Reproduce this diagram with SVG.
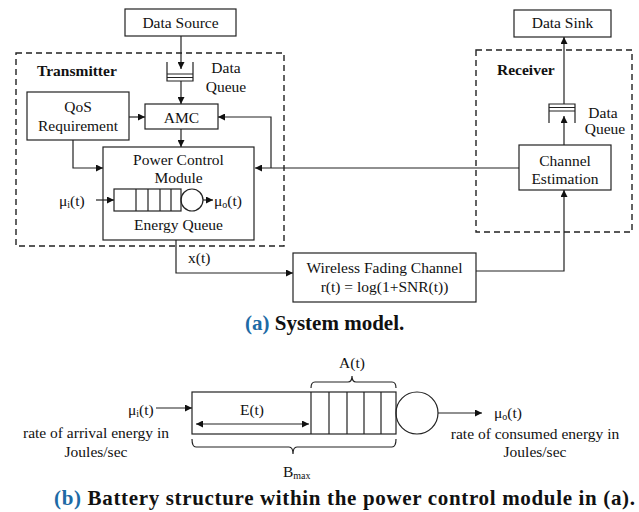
<svg xmlns="http://www.w3.org/2000/svg" width="639" height="512" viewBox="0 0 639 512">
  <style>
    .box { fill: #fff; stroke: #222; stroke-width: 1.2; }
    .dash { fill: none; stroke: #222; stroke-width: 1.4; stroke-dasharray: 6 4; }
    .ln { fill: none; stroke: #222; stroke-width: 1.2; }
    .t { font-family: "Liberation Serif", "Times New Roman", serif; font-size: 15.5px; fill: #111; }
    .c { text-anchor: middle; }
    .b { font-weight: bold; }
    .cap { font-family: "Liberation Serif", "Times New Roman", serif; font-weight: bold; font-size: 21px; fill: #111; }
    .blue { fill: #1d6aa5; }
  </style>
  <defs>
    <marker id="arr" viewBox="0 0 10 10" refX="10" refY="5" markerWidth="8" markerHeight="7" markerUnits="userSpaceOnUse" orient="auto-start-reverse">
      <path d="M0,0 L10,5 L0,10 Z" fill="#111"/>
    </marker>
  </defs>
  <rect width="639" height="512" fill="#fff"/>

  <!-- (a) system model: grouping boundaries -->
  <g id="transmitter">
    <rect class="dash" x="16" y="53" width="268" height="193"/>
    <text class="t b" x="37" y="76">Transmitter</text>
  </g>
  <g id="receiver">
    <rect class="dash" x="476" y="50" width="156" height="182"/>
    <text class="t b" x="497" y="75">Receiver</text>
  </g>

  <g id="data-source">
    <rect class="box" x="125" y="9" width="111" height="27"/>
    <text class="t c" x="180.5" y="28">Data Source</text>
  </g>

  <g id="tx-data-queue">
    <path class="ln" d="M167,62 V81 H193 V62 M167,74 H193 M167,77.5 H193"/>
    <text class="t c" x="226" y="73">Data</text>
    <text class="t c" x="226" y="92">Queue</text>
  </g>

  <g id="qos">
    <rect class="box" x="27" y="92" width="102" height="48"/>
    <text class="t c" x="78" y="112">QoS</text>
    <text class="t c" x="78" y="131">Requirement</text>
  </g>

  <g id="amc">
    <rect class="box" x="145" y="104" width="73" height="25"/>
    <text class="t c" x="181.5" y="123">AMC</text>
  </g>

  <g id="power-control">
    <rect class="box" x="103" y="147" width="151" height="93"/>
    <text class="t c" x="178.5" y="165">Power Control</text>
    <text class="t c" x="178.5" y="183">Module</text>
    <rect class="ln" x="114" y="189" width="67" height="22"/>
    <path class="ln" d="M136,189 V211 M148,189 V211 M160,189 V211 M171,189 V211"/>
    <circle class="ln" cx="192" cy="200" r="11"/>
    <text class="t c" x="178.5" y="230">Energy Queue</text>
    <text class="t" x="59" y="206">μ<tspan font-size="10" dy="2">i</tspan><tspan dy="-2">(t)</tspan></text>
    <text class="t" x="214" y="206">μ<tspan font-size="10" dy="2">o</tspan><tspan dy="-2">(t)</tspan></text>
  </g>

  <text class="t" x="188" y="263">x(t)</text>

  <g id="wireless-channel">
    <rect class="box" x="293" y="253" width="183" height="49"/>
    <text class="t c" x="384.5" y="273">Wireless Fading Channel</text>
    <text class="t c" x="384.5" y="292">r(t) = log(1+SNR(t))</text>
  </g>

  <g id="channel-estimation">
    <rect class="box" x="519" y="145" width="92" height="45"/>
    <text class="t c" x="565" y="166">Channel</text>
    <text class="t c" x="565" y="184">Estimation</text>
  </g>

  <g id="rx-data-queue">
    <path class="ln" d="M549,123 V104 H575 V123 M549,107.5 H575 M549,111 H575"/>
    <text class="t c" x="603" y="118">Data</text>
    <text class="t c" x="605" y="134">Queue</text>
  </g>

  <g id="data-sink">
    <rect class="box" x="514" y="10" width="97" height="27"/>
    <text class="t c" x="562.5" y="28">Data Sink</text>
  </g>

  <!-- connectors, drawn above the boxes -->
  <g id="connectors">
    <line class="ln" x1="181" y1="36" x2="181" y2="69" marker-end="url(#arr)"/>
    <line class="ln" x1="181" y1="81" x2="181" y2="104" marker-end="url(#arr)"/>
    <line class="ln" x1="129" y1="117" x2="145" y2="117" marker-end="url(#arr)"/>
    <line class="ln" x1="181" y1="129" x2="181" y2="147" marker-end="url(#arr)"/>
    <polyline class="ln" points="73,140 73,168 103,168" marker-end="url(#arr)"/>
    <line class="ln" x1="519" y1="168" x2="255" y2="168" marker-end="url(#arr)"/>
    <polyline class="ln" points="271,168 271,117 218,117" marker-end="url(#arr)"/>
    <line class="ln" x1="96" y1="200" x2="114" y2="200" marker-end="url(#arr)"/>
    <line class="ln" x1="203" y1="200" x2="213" y2="200" marker-end="url(#arr)"/>
    <polyline class="ln" points="176,240 176,273 293,273" marker-end="url(#arr)"/>
    <polyline class="ln" points="476,271 564,271 564,190" marker-end="url(#arr)"/>
    <line class="ln" x1="564" y1="145" x2="564" y2="116" marker-end="url(#arr)"/>
    <line class="ln" x1="564" y1="104" x2="564" y2="37" marker-end="url(#arr)"/>
  </g>

  <text class="cap" x="245" y="330"><tspan class="blue">(a)</tspan> System model.</text>

  <!-- (b) battery structure -->
  <g id="battery">
    <rect class="ln" x="192" y="392" width="204" height="42"/>
    <path class="ln" d="M311,392 V434 M329,392 V434 M347,392 V434 M364,392 V434 M381,392 V434"/>
    <circle class="ln" cx="417" cy="413" r="21"/>
    <line class="ln" x1="196" y1="424" x2="309" y2="424" marker-start="url(#arr)" marker-end="url(#arr)"/>
    <text class="t c" x="252" y="415">E(t)</text>
    <path class="ln" d="M311,388 Q311,382 315,382 H348 Q352,382 352,376 Q352,382 356,382 H392 Q396,382 396,388"/>
    <text class="t c" x="352" y="368">A(t)</text>
    <path class="ln" d="M192,439 Q192,447 196,447 H289 Q293,447 293,454 Q293,447 297,447 H392 Q396,447 396,439"/>
    <text class="t" x="283" y="477">B<tspan font-size="10" dy="2">max</tspan></text>
  </g>

  <g id="battery-io">
    <line class="ln" x1="156" y1="408" x2="192" y2="408" marker-end="url(#arr)"/>
    <text class="t" x="128" y="415">μ<tspan font-size="10" dy="2">i</tspan><tspan dy="-2">(t)</tspan></text>
    <text class="t c" x="96" y="438">rate of arrival energy in</text>
    <text class="t c" x="96" y="457">Joules/sec</text>
    <line class="ln" x1="438" y1="413" x2="482" y2="413" marker-end="url(#arr)"/>
    <text class="t" x="494" y="418">μ<tspan font-size="10" dy="2">o</tspan><tspan dy="-2">(t)</tspan></text>
    <text class="t c" x="535" y="439">rate of consumed energy in</text>
    <text class="t c" x="535" y="457">Joules/sec</text>
  </g>

  <text class="cap" x="54" y="505" textLength="581" lengthAdjust="spacing"><tspan class="blue">(b)</tspan> Battery structure within the power control module in (a).</text>
</svg>
